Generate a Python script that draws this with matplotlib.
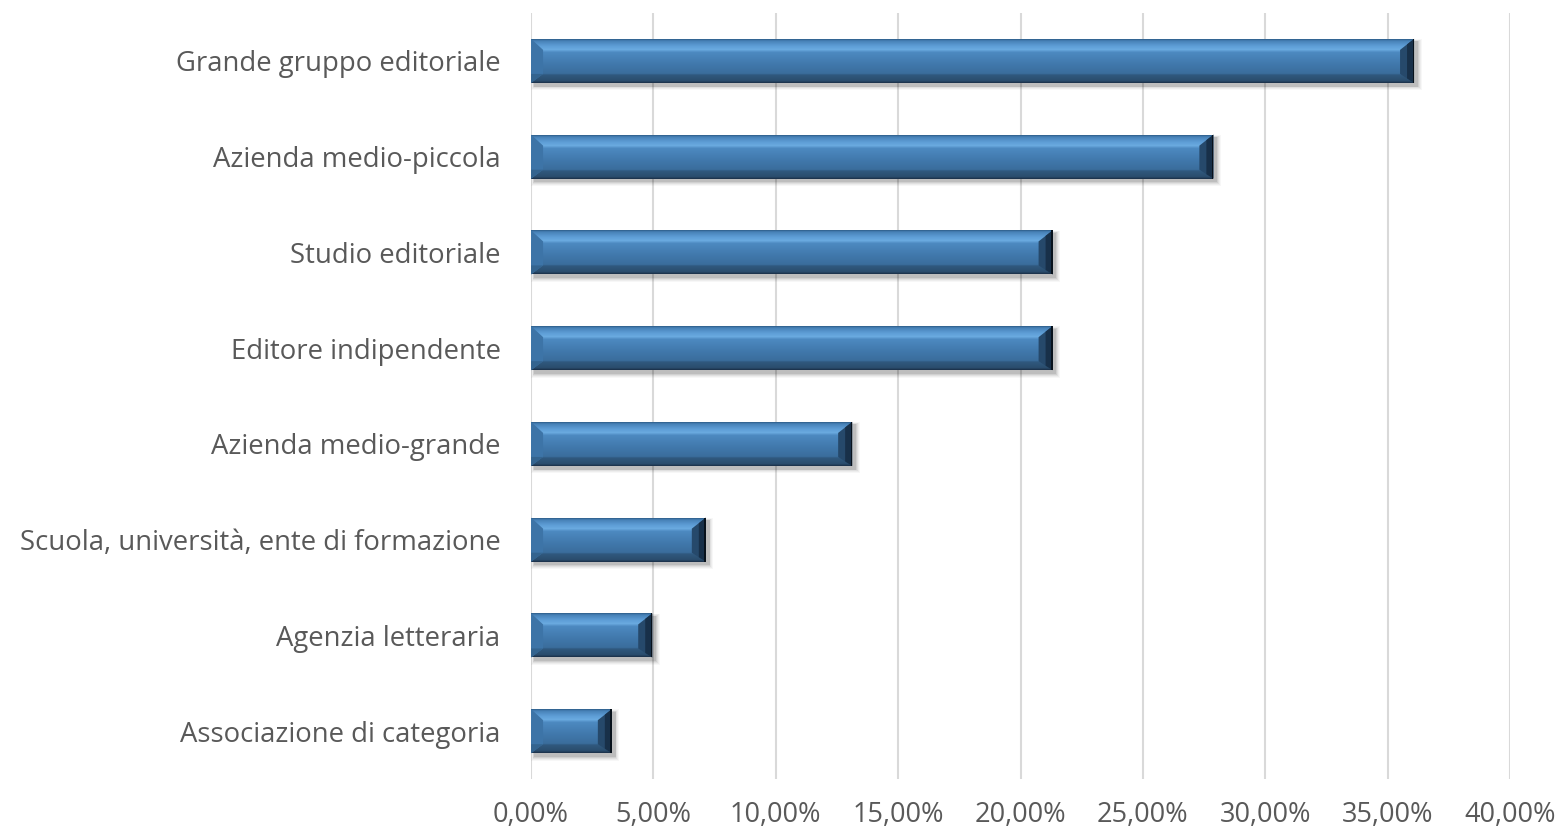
import matplotlib.pyplot as plt
from matplotlib.patches import Polygon, Rectangle
from matplotlib.colors import LinearSegmentedColormap
from matplotlib.ticker import FuncFormatter

plt.rcParams['font.family'] = ['Open Sans', 'DejaVu Sans']

# Dati
categorie = [
    "Grande gruppo editoriale",
    "Azienda medio-piccola",
    "Studio editoriale",
    "Editore indipendente",
    "Azienda medio-grande",
    "Scuola, università, ente di formazione",
    "Agenzia letteraria",
    "Associazione di categoria",
]
valori = [36.08, 27.88, 21.31, 21.31, 13.12, 7.14, 4.95, 3.30]
ticks_x = [0, 5, 10, 15, 20, 25, 30, 35, 40]

# profilo verticale della barra (alto -> basso)
profilo = LinearSegmentedColormap.from_list("bevel", [
    (0.00, "#2E5E8A"),
    (0.04, "#4680B6"),
    (0.16, "#5E9ED6"),
    (0.24, "#69A9DF"),
    (0.30, "#4C89C0"),
    (0.55, "#4179AD"),
    (0.78, "#3A6D9C"),
    (0.82, "#2F587E"),
    (0.95, "#2A4C6C"),
    (1.00, "#1A3048"),
])

fig = plt.figure(figsize=(15.62, 8.35), dpi=100)
ax = fig.add_axes([0.34, 0.067, 0.6267, 0.9174])

pos = list(range(len(categorie)))
alt = 0.46
ax.set_xlim(0, 40)
ax.set_ylim(len(categorie) - 0.5, -0.5)

# px -> unità dati
px_x = 40 / 979.0
px_y = 8 / 766.0
bxl = 12 * px_x
bxr = 14 * px_x
bt = 11 * px_y
bb = 9 * px_y
n = 44

for y, v in zip(pos, valori):
    y0 = y - alt / 2   # bordo superiore (asse invertito)
    y1 = y + alt / 2   # bordo inferiore
    # ombra sfumata
    for k, a in [(9, 0.03), (7, 0.04), (5, 0.05), (3, 0.07), (1.5, 0.09)]:
        ax.add_patch(Rectangle((3 * px_x - k * px_x * 0.3, y0 + 3 * px_y - k * px_y * 0.3),
                               v + k * px_x * 0.8, alt + k * px_y * 0.8,
                               facecolor="#000000", alpha=a, lw=0, zorder=2))
    ax.barh(y, v, height=alt, color="#4179AD", zorder=3)
    h = alt / n
    for i in range(n):
        ax.add_patch(Rectangle((0, y0 + i * h), v, h * 1.05,
                               facecolor=profilo((i + 0.5) / n), lw=0, zorder=4))
    xi0, xi1 = bxl, v - bxr
    yi0, yi1 = y0 + bt, y1 - bb
    # lato sinistro
    ax.add_patch(Polygon([(0, y0), (xi0, yi0), (xi0, yi1), (0, y1)],
                         closed=True, facecolor="#3D74A7", lw=0, zorder=5))
    ax.add_patch(Polygon([(0, y1), (xi0, yi1), (0, yi1)],
                         closed=True, facecolor="#34648F", lw=0, zorder=5))
    # lato destro
    ax.add_patch(Polygon([(v, y0), (xi1, yi0), (xi1, yi1), (v, y1)],
                         closed=True, facecolor="#26496B", lw=0, zorder=5))
    ax.add_patch(Polygon([(v, y0), (v - 0.5 * bxr, y0 + 0.5 * bt),
                          (v - 0.5 * bxr, y1 - 0.5 * bb), (v, y1)],
                         closed=True, facecolor="#183049", lw=0, zorder=5))
    ax.add_patch(Rectangle((v - 1.5 * px_x, y0), 1.5 * px_x, alt,
                           facecolor="#08121C", lw=0, zorder=6))

ax.set_yticks(pos)
ax.set_yticklabels(categorie)
ax.set_xticks(ticks_x)
ax.xaxis.set_major_formatter(FuncFormatter(lambda v, p: f"{v:.2f}%".replace(".", ",")))

ax.grid(axis="x", color="#D9D9D9", lw=1.5, zorder=0)
ax.set_axisbelow(True)
for s in ax.spines.values():
    s.set_visible(False)
ax.tick_params(axis="both", length=0, labelcolor="#595959")
ax.tick_params(axis="y", pad=22, labelsize=19.8)
ax.tick_params(axis="x", pad=16, labelsize=19.5)

fig.savefig("out.png", dpi=100)
